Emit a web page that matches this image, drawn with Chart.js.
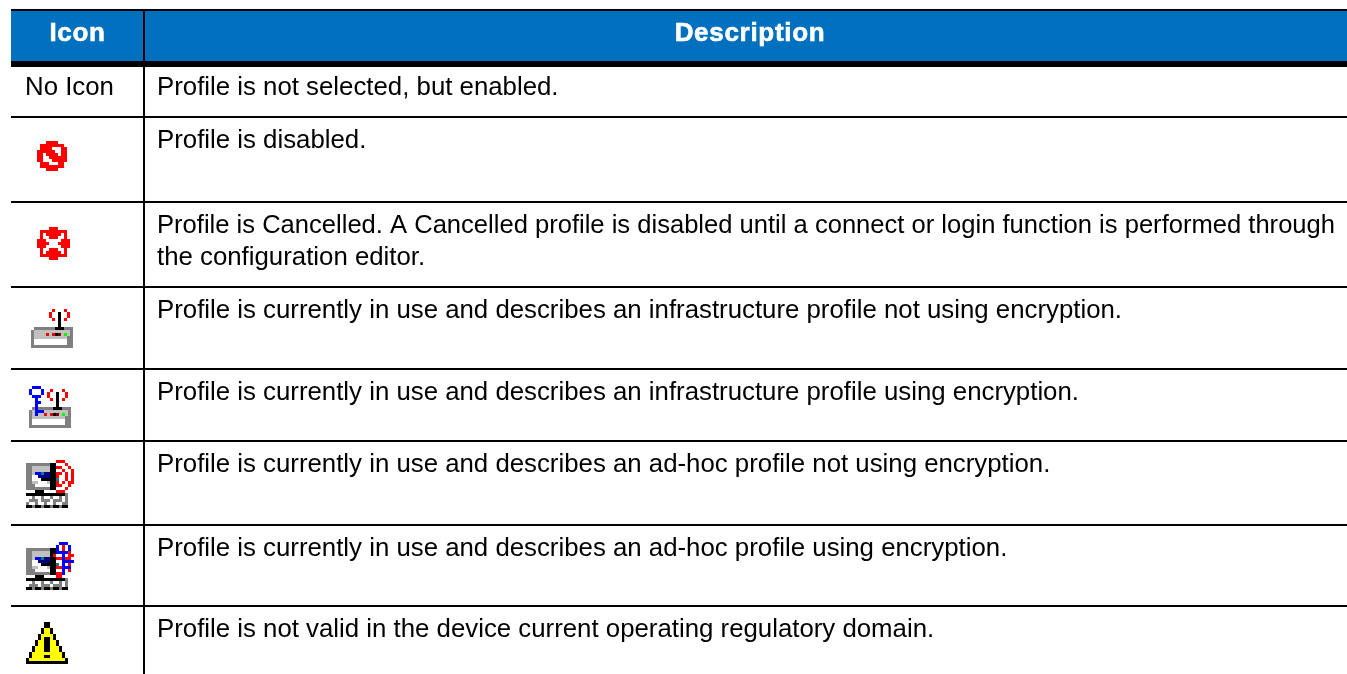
<!DOCTYPE html>
<html><head><meta charset="utf-8">
<script src="https://cdn.jsdelivr.net/npm/chart.js@4"></script>
<style>html,body{margin:0;padding:0;background:#fff;overflow:hidden}canvas{display:block}</style>
</head><body><canvas id="c" width="1347" height="674"></canvas>
<script>
const headers = ["Icon", "Description"];
const iconLabels = ["No Icon", "", "", "", "", "", "", ""];
const descriptions = [
  ["Profile is not selected, but enabled."],
  ["Profile is disabled."],
  ["Profile is Cancelled. A Cancelled profile is disabled until a connect or login function is performed through", "the configuration editor."],
  ["Profile is currently in use and describes an infrastructure profile not using encryption."],
  ["Profile is currently in use and describes an infrastructure profile using encryption."],
  ["Profile is currently in use and describes an ad-hoc profile not using encryption."],
  ["Profile is currently in use and describes an ad-hoc profile using encryption."],
  ["Profile is not valid in the device current operating regulatory domain."]
];
const rowEdges = [64, 117, 202, 287, 369, 441, 525, 606];
const columnEdges = [144];
const iconCentreX = [52, 53.5, 52, 50, 50, 50, 47];
const iconCentreY = [156, 243.5, 328.5, 407, 484, 566, 643];
const iconMaps = [
 ["...rrrr...",".rrrrrrrr.",".rrrr...rr","rrrrrr..rr","rr.rrrr.rr","rr..rrrrrr","rr...rrrrr",".rrr...rr.",".rrrrrrrr.","...rrrr..."],
 ["....rrr....",".rrrrrrrrr.",".r.rrrrr.r.",".r..rrr..r.","rrr.....rrr","rrrr...rrrr","rrr.....rrr",".r..rrr..r.",".r.rrrrr.r.",".rrrrrrrrr.","....rrr...."],
 [".......r...r..","......r..k..r.","......r..k..r.",".......r.k.r..",".........k....",".........k....",".gggggggkkkggg","gssssssssssssg","gssssrsrkRsGsg","gsssssssssssgg","gwwwwwwwwwwwgg","gwwwwwwwwwwwgg","gggggggggggggg"],
 [".bbb..........","b...b..r...r..","b...b.r..k..r.",".bbb..r..k..r.","..b....r.k.r..","..bb.....k....","..b......k....",".gbgggggkkkggg","gsbbbssssssssg","gsbssrsrkRsGsg","gsssssssssssgg","gwwwwwwwwwwwgg","gwwwwwwwwwwwgg","gggggggggggggg"],
 ["..........rrr...","ggggggggkk...r..","ggsssssskkrr..r.","ggsssssskk..r..r","ggsbbtnnkkrr.r.r","ggwwnnnnkkr..r.r","ggwwwkkkkkt..r.r","ggsswwwskkr.r.rr","gggwwwwwkkrr..r.","ggggggggkk...r..","...kkk....rrr...","kkkkkkkkkkkkkg..","wwgwwgwwgwwgwg..","wgggwgggwgggwg..","gwwgwwgwwgwwgg..","kkgkkgkkgkkgkk.."],
 ["...........bbb..","..........b.r.b.","ggggggggkkb.r.b.","ggsssssskkbbbbr.","ggsssssskr..b.rr","ggsbbtnnkkrrbrr.","ggwwnnnnkk..bbbb","ggwwwkkkkkt.b.r.","ggsswwwskkrrbbb.","gggwwwwwkk..b.r.","ggggggggkkrrb...","...kkk....rr....","kkkkkkkkkkkkkg..","wwgwwgwwgwwgwg..","wgggwgggwgggwg..","kkgkkgkkgkkgkk.."],
 ["......kk......","......kk......",".....kyyk.....",".....kyyk.....","....kyyyyk....","....kykkyk....","...kyykkyyk...","...kyykkyyk...","..kyyykkyyyk..","..kyyykkyyyk..",".kyyyyyyyyyyk.",".kyyyykkyyyyk.","kyyyyyyyyyyyyk","kkkkkkkkkkkkkk"]
];

const palette = {r:"#ff0000",R:"#800000",k:"#000000",g:"#808080",s:"#c0c0c0",w:"#ffffff",b:"#0000ff",G:"#00ff00",y:"#ffff00",t:"#008080",n:"#000080"};
const bitScale = 3;
function iconCanvas(map){
  const c = document.createElement("canvas");
  c.width = map[0].length * bitScale; c.height = map.length * bitScale;
  const x = c.getContext("2d");
  map.forEach((row, j) => [...row].forEach((ch, i) => {
    if (palette[ch]) { x.fillStyle = palette[ch]; x.fillRect(i*bitScale, j*bitScale, bitScale, bitScale); }
  }));
  return c;
}
const icons = iconMaps.map(iconCanvas);
const bodyFont = '25.8px "Liberation Sans"';
const headFont = 'bold 26px "Liberation Sans"';
const fitWidth = 1178;
const tablePlugin = {
  id: "table",
  beforeDraw(ch){
    const {ctx, scales:{x, y}} = ch;
    ctx.fillStyle = "#0070bf";
    ctx.fillRect(x.getPixelForValue(x.min), y.getPixelForValue(10), x.getPixelForValue(x.max)-x.getPixelForValue(x.min), y.getPixelForValue(64)-y.getPixelForValue(10));
    ctx.imageSmoothingEnabled = false;
  },
  afterDraw(ch){
    const {ctx, scales:{x, y}} = ch;
    ctx.save();
    ctx.textBaseline = "alphabetic";
    ctx.fillStyle = "#ffffff"; ctx.strokeStyle = "#ffffff"; ctx.lineWidth = 0.6;
    ctx.font = headFont; ctx.textAlign = "center"; ctx.letterSpacing = "0.7px";
    [77.5, 750].forEach((cx, i) => {
      ctx.fillText(headers[i], x.getPixelForValue(cx), y.getPixelForValue(41));
      ctx.strokeText(headers[i], x.getPixelForValue(cx), y.getPixelForValue(41));
    });
    ctx.letterSpacing = "0px"; ctx.fillStyle = "#000000"; ctx.font = bodyFont; ctx.textAlign = "left";
    rowEdges.forEach((edge, i) => {
      const base = edge + 31;
      if (iconLabels[i]) ctx.fillText(iconLabels[i], x.getPixelForValue(25), y.getPixelForValue(base));
      (descriptions[i] || []).forEach((line, k) => ctx.fillText(line, x.getPixelForValue(157), y.getPixelForValue(base + 32*k), fitWidth));
    });
    ctx.restore();
  }
};
new Chart(document.getElementById("c"), {
  type: "scatter",
  data: { datasets: [{
    data: iconCentreX.map((v, i) => ({x: v, y: iconCentreY[i]})),
    pointStyle: icons, pointRadius: 10, pointBorderWidth: 0, clip: false
  }]},
  options: {
    responsive: false, animation: false, events: [],
    layout: { autoPadding: false, padding: {left: 11, top: 10, right: 0, bottom: 0} },
    plugins: { legend: {display: false}, tooltip: {enabled: false} },
    scales: {
      x: { type: "linear", min: 11, max: 1347, border: {display: false},
           ticks: {display: false}, afterBuildTicks: s => { s.ticks = columnEdges.map(value => ({value})); },
           grid: {color: "#000", lineWidth: 2, drawTicks: false} },
      y: { type: "linear", reverse: true, min: 10, max: 674, border: {display: false},
           ticks: {display: false}, afterBuildTicks: s => { s.ticks = [10, ...rowEdges].map(value => ({value})); },
           grid: {color: "#000", drawTicks: false, lineWidth: c => c.tick && c.tick.value === 64 ? 6 : 2} }
    }
  },
  plugins: [tablePlugin]
});
</script></body></html>
